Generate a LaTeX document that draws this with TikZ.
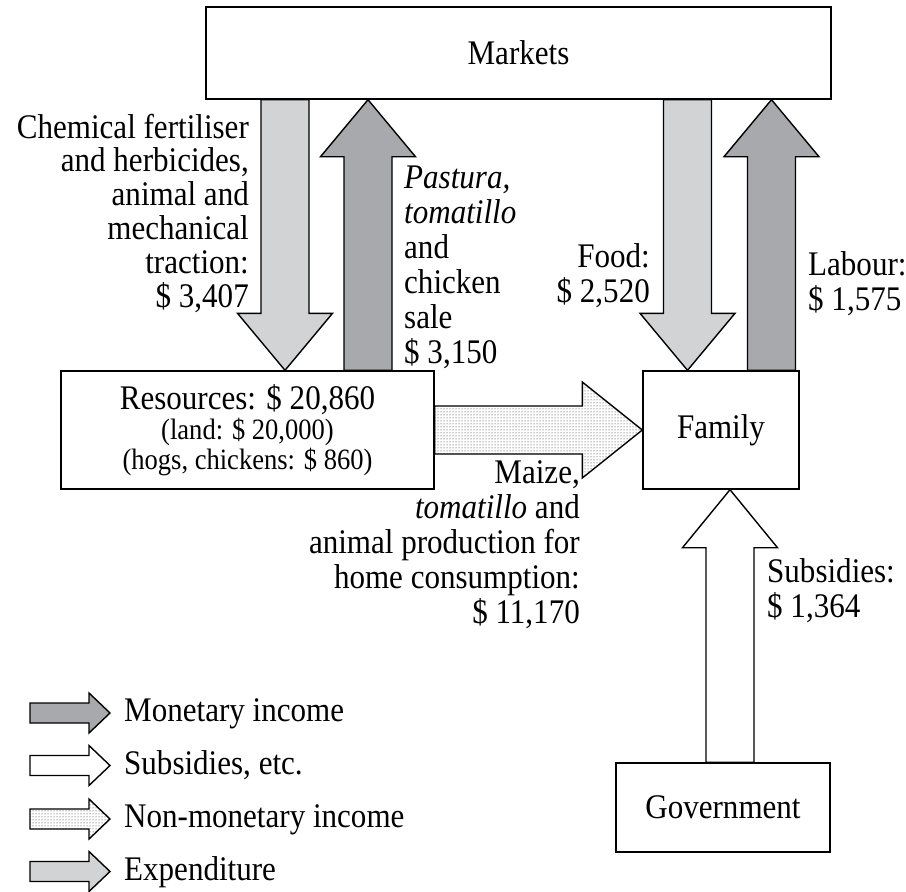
\documentclass[tikz,border=0pt]{standalone}
\usepackage{fontspec}
\setmainfont{Liberation Serif}[FakeStretch=0.9]
\usetikzlibrary{calc,patterns}

\definecolor{spendgray}{HTML}{D1D3D4}
\definecolor{incomegray}{HTML}{A7A9AC}

% Block arrow: #1 style, #2 tail point, #3 tip point,
% #4 half shaft width, #5 half head width, #6 head length
\newcommand\flowarrow[6]{%
  \coordinate (fa-base) at ($(#3)!#6!(#2)$);
  \draw[#1] ($(#2)!#4!90:(#3)$) -- ($(fa-base)!#4!90:(#3)$)
    -- ($(fa-base)!#5!90:(#3)$) -- (#3)
    -- ($(fa-base)!#5!-90:(#3)$) -- ($(fa-base)!#4!-90:(#3)$)
    -- ($(#2)!#4!-90:(#3)$) -- cycle;
}

\begin{document}
\begin{tikzpicture}[x=1pt,y=-1pt,
  every node/.style={font=\fontsize{34.5}{35}\selectfont, inner sep=0pt},
  box/.style={draw, line width=1.4pt, align=center},
  flowline/.style={draw, line width=1.4pt, line join=miter},
  spend/.style={flowline, fill=spendgray},
  income/.style={flowline, fill=incomegray},
  subsidy/.style={flowline, fill=white},
  inkind/.style={flowline, pattern=dots, pattern color=black!85},
  note/.style={align=#1},
]
\useasboundingbox (0,0) rectangle (906,892);

% boxes
\node[box, minimum width=625pt, minimum height=92pt] (markets) at (518.5,53) {Markets};
\node[box, minimum width=373pt, minimum height=118pt,
      font=\fontsize{29.5}{30}\selectfont] (res) at (247.5,430)
  {{\fontsize{34.5}{30}\selectfont Resources: \$ 20,860}\\(land: \$ 20,000)\\(hogs, chickens: \$ 860)};
\node[box, minimum width=156pt, minimum height=118pt] (family) at (721,430) {Family};
\node[box, minimum width=214pt, minimum height=89pt] (gov) at (723,807.5) {Government};

% arrow columns
\coordinate (xchem) at (285,0);
\coordinate (xsale) at (368,0);
\coordinate (xfood) at (687.5,0);
\coordinate (xlab) at (771.5,0);
\coordinate (xsub) at (730,0);

\coordinate (chem-a) at (markets.south -| xchem);
\coordinate (chem-b) at (res.north -| xchem);
\coordinate (sale-a) at (res.north -| xsale);
\coordinate (sale-b) at (markets.south -| xsale);
\coordinate (food-a) at (markets.south -| xfood);
\coordinate (food-b) at (family.north -| xfood);
\coordinate (lab-a) at (family.north -| xlab);
\coordinate (lab-b) at (markets.south -| xlab);
\coordinate (sub-a) at (gov.north -| xsub);
\coordinate (sub-b) at (family.south -| xsub);

\flowarrow{spend}{chem-a}{chem-b}{24pt}{47.5pt}{57pt}
\flowarrow{income}{sale-a}{sale-b}{24pt}{47.5pt}{57pt}
\flowarrow{spend}{food-a}{food-b}{24pt}{47.5pt}{57pt}
\flowarrow{income}{lab-a}{lab-b}{24pt}{47.5pt}{57pt}
\flowarrow{inkind}{res.east}{family.west}{24pt}{48pt}{60pt}
\flowarrow{subsidy}{sub-a}{sub-b}{24pt}{47.5pt}{58pt}

% flow labels (base anchor sits on the last line)
\node[note=right, anchor=base east, font=\fontsize{34.5}{33.8}\selectfont] (chemtext) at (249,307)
  {Chemical fertiliser\\and herbicides,\\animal and\\mechanical\\traction:\\\$ 3,407};
\node[note=left, anchor=base west] (saletext) at (404,363)
  {\textit{Pastura,}\\\textit{tomatillo}\\and\\chicken\\sale\\\$ 3,150};
\node[note=right, anchor=base east] (foodtext) at (650,302) {Food:\\\$ 2,520};
\node[note=left, anchor=base west] (labtext) at (808,310) {Labour:\\\$ 1,575};
\node[note=right, anchor=base east] (maizetext) at (580,623)
  {Maize,\\\textit{tomatillo} and\\animal production for\\home consumption:\\\$ 11,170};
\node[note=left, anchor=base west] (subtext) at (767,617) {Subsidies:\\\$ 1,364};

% legend
\foreach \row/\sty/\txt [count=\i] in {713/income/Monetary income,
    765.5/subsidy/{Subsidies, etc.},
    819/inkind/Non-monetary income,
    871.5/spend/Expenditure} {
  \coordinate (key\i-a) at (30,\row);
  \coordinate (key\i-b) at (110,\row);
  \flowarrow{\sty}{key\i-a}{key\i-b}{10pt}{20pt}{21pt}
  \node[anchor=base west] (key\i-text) at (124,\row+8.5) {\txt};
}
\end{tikzpicture}
\end{document}
